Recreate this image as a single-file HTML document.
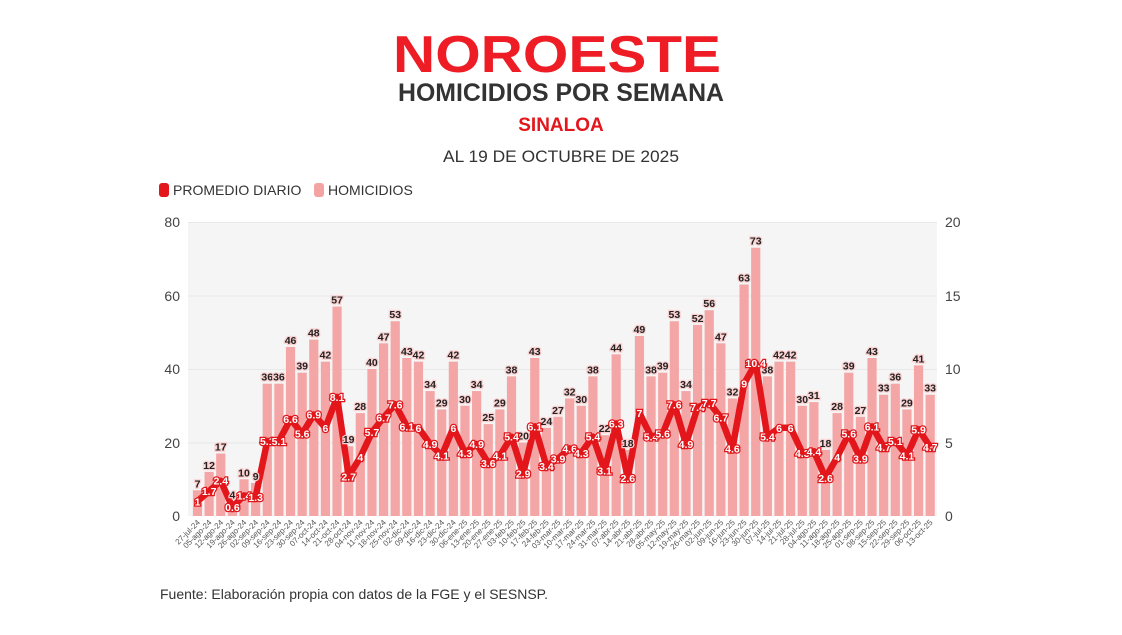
<!DOCTYPE html>
<html><head><meta charset="utf-8"><style>
body{margin:0;background:#fff;width:1122px;height:630px;overflow:hidden;font-family:"Liberation Sans",sans-serif}
.bl{font:bold 10.5px "Liberation Sans",sans-serif;fill:#222;stroke:#fbd0d0;stroke-width:2.5px;paint-order:stroke;text-anchor:middle}
.ll{font:bold 10.5px "Liberation Sans",sans-serif;fill:#fff;stroke:#e0161b;stroke-width:2.5px;paint-order:stroke;text-anchor:middle}
.dl{font:8px "Liberation Sans",sans-serif;fill:#555;text-anchor:end}
.ax{font:14px "Liberation Sans",sans-serif;fill:#444}
</style></head><body>
<svg width="1122" height="630" xmlns="http://www.w3.org/2000/svg">
<text x="557" y="72" text-anchor="middle" textLength="328" lengthAdjust="spacingAndGlyphs" style="font:bold 52px 'Liberation Sans',sans-serif;fill:#ee1c24">NOROESTE</text>
<text x="561" y="101" text-anchor="middle" textLength="326" lengthAdjust="spacingAndGlyphs" style="font:bold 25px 'Liberation Sans',sans-serif;fill:#333">HOMICIDIOS POR SEMANA</text>
<text x="561" y="131" text-anchor="middle" style="font:bold 19px 'Liberation Sans',sans-serif;fill:#e3161b">SINALOA</text>
<text x="561" y="162" text-anchor="middle" textLength="236" lengthAdjust="spacingAndGlyphs" style="font:17px 'Liberation Sans',sans-serif;fill:#333">AL 19 DE OCTUBRE DE 2025</text>
<rect x="159" y="183" width="10" height="14" rx="3" fill="#e3161b"/>
<text x="173" y="195" style="font:14px 'Liberation Sans',sans-serif;fill:#333">PROMEDIO DIARIO</text>
<rect x="314" y="183" width="10" height="14" rx="3" fill="#f4a3a3"/>
<text x="328" y="195" style="font:14px 'Liberation Sans',sans-serif;fill:#333">HOMICIDIOS</text>
<rect x="188" y="222" width="749" height="294" fill="#f5f5f5"/>
<g stroke="#e8e8e8" stroke-width="1"><line x1="188" x2="937" y1="222.5" y2="222.5"/><line x1="188" x2="937" y1="296" y2="296"/><line x1="188" x2="937" y1="369.5" y2="369.5"/><line x1="188" x2="937" y1="443" y2="443"/></g>
<g class="ax" text-anchor="end"><text x="180" y="227">80</text><text x="180" y="301">60</text><text x="180" y="374">40</text><text x="180" y="448">20</text><text x="180" y="521">0</text></g>
<g class="ax"><text x="945" y="227">20</text><text x="945" y="301">15</text><text x="945" y="374">10</text><text x="945" y="448">5</text><text x="945" y="521">0</text></g>
<g id="bars"></g>
<path id="line" fill="none" stroke="#e3161b" stroke-width="6.5" stroke-linejoin="round"/>
<g id="bl">
<text class="bl">7</text><text class="bl">12</text><text class="bl">17</text><text class="bl">4</text><text class="bl">10</text><text class="bl">9</text><text class="bl">36</text><text class="bl">36</text><text class="bl">46</text><text class="bl">39</text><text class="bl">48</text><text class="bl">42</text><text class="bl">57</text><text class="bl">19</text><text class="bl">28</text><text class="bl">40</text><text class="bl">47</text><text class="bl">53</text><text class="bl">43</text><text class="bl">42</text><text class="bl">34</text><text class="bl">29</text><text class="bl">42</text><text class="bl">30</text><text class="bl">34</text><text class="bl">25</text><text class="bl">29</text><text class="bl">38</text><text class="bl">20</text><text class="bl">43</text><text class="bl">24</text><text class="bl">27</text><text class="bl">32</text><text class="bl">30</text><text class="bl">38</text><text class="bl">22</text><text class="bl">44</text><text class="bl">18</text><text class="bl">49</text><text class="bl">38</text><text class="bl">39</text><text class="bl">53</text><text class="bl">34</text><text class="bl">52</text><text class="bl">56</text><text class="bl">47</text><text class="bl">32</text><text class="bl">63</text><text class="bl">73</text><text class="bl">38</text><text class="bl">42</text><text class="bl">42</text><text class="bl">30</text><text class="bl">31</text><text class="bl">18</text><text class="bl">28</text><text class="bl">39</text><text class="bl">27</text><text class="bl">43</text><text class="bl">33</text><text class="bl">36</text><text class="bl">29</text><text class="bl">41</text><text class="bl">33</text>
</g>
<g id="ll">
<text class="ll">1</text><text class="ll">1.7</text><text class="ll">2.4</text><text class="ll">0.6</text><text class="ll">1.4</text><text class="ll">1.3</text><text class="ll">5.1</text><text class="ll">5.1</text><text class="ll">6.6</text><text class="ll">5.6</text><text class="ll">6.9</text><text class="ll">6</text><text class="ll">8.1</text><text class="ll">2.7</text><text class="ll">4</text><text class="ll">5.7</text><text class="ll">6.7</text><text class="ll">7.6</text><text class="ll">6.1</text><text class="ll">6</text><text class="ll">4.9</text><text class="ll">4.1</text><text class="ll">6</text><text class="ll">4.3</text><text class="ll">4.9</text><text class="ll">3.6</text><text class="ll">4.1</text><text class="ll">5.4</text><text class="ll">2.9</text><text class="ll">6.1</text><text class="ll">3.4</text><text class="ll">3.9</text><text class="ll">4.6</text><text class="ll">4.3</text><text class="ll">5.4</text><text class="ll">3.1</text><text class="ll">6.3</text><text class="ll">2.6</text><text class="ll">7</text><text class="ll">5.4</text><text class="ll">5.6</text><text class="ll">7.6</text><text class="ll">4.9</text><text class="ll">7.4</text><text class="ll">7.7</text><text class="ll">6.7</text><text class="ll">4.6</text><text class="ll">9</text><text class="ll">10.4</text><text class="ll">5.4</text><text class="ll">6</text><text class="ll">6</text><text class="ll">4.3</text><text class="ll">4.4</text><text class="ll">2.6</text><text class="ll">4</text><text class="ll">5.6</text><text class="ll">3.9</text><text class="ll">6.1</text><text class="ll">4.7</text><text class="ll">5.1</text><text class="ll">4.1</text><text class="ll">5.9</text><text class="ll">4.7</text>
</g>
<g id="dl">
<text class="dl">27-jul-24</text><text class="dl">05-ago-24</text><text class="dl">12-ago-24</text><text class="dl">19-ago-24</text><text class="dl">26-ago-24</text><text class="dl">02-sep-24</text><text class="dl">09-sep-24</text><text class="dl">16-sep-24</text><text class="dl">23-sep-24</text><text class="dl">30-sep-24</text><text class="dl">07-oct-24</text><text class="dl">14-oct-24</text><text class="dl">21-oct-24</text><text class="dl">28-oct-24</text><text class="dl">04-nov-24</text><text class="dl">11-nov-24</text><text class="dl">18-nov-24</text><text class="dl">25-nov-24</text><text class="dl">02-dic-24</text><text class="dl">09-dic-24</text><text class="dl">16-dic-24</text><text class="dl">23-dic-24</text><text class="dl">30-dic-24</text><text class="dl">06-ene-25</text><text class="dl">13-ene-25</text><text class="dl">20-ene-25</text><text class="dl">27-ene-25</text><text class="dl">03-feb-25</text><text class="dl">10-feb-25</text><text class="dl">17-feb-25</text><text class="dl">24-feb-25</text><text class="dl">03-mar-25</text><text class="dl">10-mar-25</text><text class="dl">17-mar-25</text><text class="dl">24-mar-25</text><text class="dl">31-mar-25</text><text class="dl">07-abr-25</text><text class="dl">14-abr-25</text><text class="dl">21-abr-25</text><text class="dl">28-abr-25</text><text class="dl">05-may-25</text><text class="dl">12-may-25</text><text class="dl">19-may-25</text><text class="dl">26-may-25</text><text class="dl">02-jun-25</text><text class="dl">09-jun-25</text><text class="dl">16-jun-25</text><text class="dl">23-jun-25</text><text class="dl">30-jun-25</text><text class="dl">07-jul-25</text><text class="dl">14-jul-25</text><text class="dl">21-jul-25</text><text class="dl">28-jul-25</text><text class="dl">04-ago-25</text><text class="dl">11-ago-25</text><text class="dl">18-ago-25</text><text class="dl">25-ago-25</text><text class="dl">01-sep-25</text><text class="dl">08-sep-25</text><text class="dl">15-sep-25</text><text class="dl">22-sep-25</text><text class="dl">29-sep-25</text><text class="dl">06-oct-25</text><text class="dl">13-oct-25</text>
</g>
<text x="160" y="599" style="font:14px 'Liberation Sans',sans-serif;fill:#333">Fuente: Elaboración propia con datos de la FGE y el SESNSP.</text>
</svg>
<script>
var NS="http://www.w3.org/2000/svg";
var bl=document.querySelectorAll('#bl text'),ll=document.querySelectorAll('#ll text'),dl=document.querySelectorAll('#dl text');
var bars=document.getElementById('bars'),d="";
function X(i){return 197.5+i*11.63;}
for(var i=0;i<bl.length;i++){
 var v=parseFloat(bl[i].textContent),x=X(i),y=516-v*3.675;
 var r=document.createElementNS(NS,'rect');
 r.setAttribute('x',x-4.6);r.setAttribute('y',y);r.setAttribute('width',9.2);r.setAttribute('height',516-y);r.setAttribute('fill','#f4a6a6');
 bars.appendChild(r);
 bl[i].setAttribute('x',x);bl[i].setAttribute('y',y-3);
 var l=parseFloat(ll[i].textContent),ly=516-l*14.7;
 d+=(i?"L":"M")+x+","+ly;
 ll[i].setAttribute('x',x);ll[i].setAttribute('y',ly+4);
 dl[i].setAttribute('transform','translate('+(x+3)+',523) rotate(-45)');
}
document.getElementById('line').setAttribute('d',d);
</script>
</body></html>
